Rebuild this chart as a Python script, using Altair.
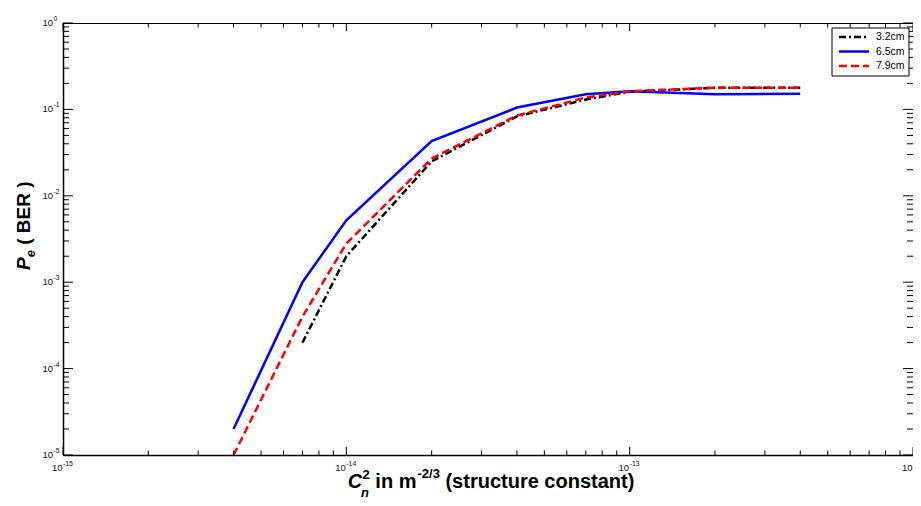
import altair as alt
import pandas as pd

# ---------------- data ----------------
cn2 = [4e-15, 7e-15, 1e-14, 2e-14, 4e-14, 7e-14, 1e-13, 2e-13, 4e-13]
ber_32 = [None, 2.0e-4, 2.0e-3, 2.5e-2, 8.3e-2, 0.130, 0.160, 0.178, 0.178]
ber_65 = [2.0e-5, 1.0e-3, 5.2e-3, 4.3e-2, 1.05e-1, 0.150, 0.162, 0.150, 0.152]
ber_79 = [1.0e-5, 4.0e-4, 2.8e-3, 2.7e-2, 8.5e-2, 0.137, 0.162, 0.178, 0.178]
series_names = ["3.2cm", "6.5cm", "7.9cm"]
series_values = [ber_32, ber_65, ber_79]
series_colors = ["#000000", "#0000ff", "#ff0000"]
series_dashes = [[7, 3, 2, 3], None, [8, 4]]

x_decades = [-15, -14, -13, -12]
y_decades = [-5, -4, -3, -2, -1, 0]
minor_mult = [2, 3, 4, 5, 6, 7, 8, 9]

W, H = 850, 432

xs = alt.Scale(type="log", domain=[1e-15, 1e-12], nice=False)
ys = alt.Scale(type="log", domain=[1e-5, 1], nice=False)
axX = alt.Axis(labels=False, ticks=False, grid=False, title=None,
               domainColor="black", domainWidth=1.5)
axY = alt.Axis(labels=False, ticks=False, grid=False, title=None,
               domainColor="black", domainWidth=1.5)

dummy = pd.DataFrame({"a": [0]})
layers = []

# ---------------- data lines ----------------
for name, vals, col, dash in zip(series_names, series_values, series_colors, series_dashes):
    df = pd.DataFrame({"cn2": cn2, "ber": vals, "series": name}).dropna()
    kw = dict(color=col, strokeWidth=2.5)
    if dash:
        kw["strokeDash"] = dash
    layers.append(
        alt.Chart(df).mark_line(**kw).encode(
            x=alt.X("cn2:Q", scale=xs, axis=axX),
            y=alt.Y("ber:Q", scale=ys, axis=axY),
        )
    )

# ---------------- ticks (inward, on all four sides) ----------------
x_major = pd.DataFrame({"v": [10.0 ** d for d in x_decades]})
x_minor = pd.DataFrame({"v": [k * 10.0 ** d for d in x_decades[:-1] for k in minor_mult]})
y_major = pd.DataFrame({"v": [10.0 ** d for d in y_decades]})
y_minor = pd.DataFrame({"v": [k * 10.0 ** d for d in y_decades[:-1] for k in minor_mult]})

for df, ln in [(x_major, 8), (x_minor, 4.5)]:
    layers.append(alt.Chart(df).mark_rule(color="black", strokeWidth=1).encode(
        x=alt.X("v:Q", scale=xs, axis=axX), y=alt.value(H), y2=alt.value(H - ln)))
    layers.append(alt.Chart(df).mark_rule(color="black", strokeWidth=1).encode(
        x=alt.X("v:Q", scale=xs, axis=axX), y=alt.value(0), y2=alt.value(ln)))
for df, ln in [(y_major, 10), (y_minor, 6)]:
    layers.append(alt.Chart(df).mark_rule(color="black", strokeWidth=1).encode(
        y=alt.Y("v:Q", scale=ys, axis=axY), x=alt.value(0), x2=alt.value(ln)))
    layers.append(alt.Chart(df).mark_rule(color="black", strokeWidth=1).encode(
        y=alt.Y("v:Q", scale=ys, axis=axY), x=alt.value(W), x2=alt.value(W - ln)))

# ---------------- tick labels 10^n ----------------
xlab = pd.DataFrame({"v": [10.0 ** d for d in x_decades], "e": [str(d) for d in x_decades]})
ylab = pd.DataFrame({"v": [10.0 ** d for d in y_decades], "e": [str(d) for d in y_decades]})
LBL = "#111111"
LF = "Liberation Sans"
layers.append(alt.Chart(xlab).mark_text(text="10", align="right", baseline="middle",
                                        fontSize=9.5, font=LF, color=LBL, dx=-0.5).encode(
    x=alt.X("v:Q", scale=xs, axis=axX), y=alt.value(H + 13)))
layers.append(alt.Chart(xlab).mark_text(align="left", baseline="middle",
                                        fontSize=6.8, font=LF, color=LBL, dx=0).encode(
    x=alt.X("v:Q", scale=xs, axis=axX), y=alt.value(H + 8.5), text="e:N"))
layers.append(alt.Chart(ylab).mark_text(text="10", align="right", baseline="middle",
                                        fontSize=9.5, font=LF, color=LBL).encode(
    y=alt.Y("v:Q", scale=ys, axis=axY), x=alt.value(-10)))
layers.append(alt.Chart(ylab).mark_text(align="left", baseline="middle", dy=-4,
                                        fontSize=6.8, font=LF, color=LBL).encode(
    y=alt.Y("v:Q", scale=ys, axis=axY), x=alt.value(-9.5), text="e:N"))

# ---------------- axis titles (with sub/superscripts) ----------------
AW = {' ': 278, '(': 333, ')': 333, '-': 333, '/': 278, '2': 556, '3': 556, 'a': 556,
      'c': 556, 'e': 556, 'i': 278, 'm': 889, 'n': 611, 'o': 611, 'r': 389, 's': 556,
      't': 333, 'u': 611, 'B': 722, 'E': 667, 'R': 722, 'C': 722, 'P': 667}


def tw(s, fs):
    return sum(AW[c] for c in s) * fs / 1000.0


def piece(text, x, y, fs, dx=0, dy=0, italic=False, angle=0):
    kw = dict(text=text, align="left", baseline="alphabetic", fontSize=fs,
              font=LF, fontWeight="bold", color="black", dx=dx, dy=dy)
    if italic:
        kw["fontStyle"] = "italic"
    if angle:
        kw["angle"] = angle
    return alt.Chart(dummy).mark_text(**kw).encode(x=alt.value(x), y=alt.value(y))


# x title: C_n^2 in m^-2/3 (structure constant)
FS, SFS = 20, 13
wC = tw("C", FS)
w2 = tw("2", SFS)
wsp = tw(" ", FS)
w_inm = tw("in m", FS)
w_exp = tw("-2/3", SFS)
w_rest = tw("(structure constant)", FS)
total = wC + w2 + 0.5 + wsp + w_inm + w_exp + 1 + wsp + w_rest
x0 = W / 2 + 3 - total / 2
yb = H + 33
layers.append(piece("C", x0, yb, FS, italic=True))
layers.append(piece("2", x0, yb, SFS, dx=wC + 0.5, dy=-9.5))
layers.append(piece("n", x0, yb, SFS, dx=wC - 1, dy=9, italic=True))
adv = wC + w2 + 0.5 + wsp
layers.append(piece("in m", x0, yb, FS, dx=adv))
adv += w_inm + 1
layers.append(piece("-2/3", x0, yb, SFS, dx=adv, dy=-10))
adv += w_exp + wsp
layers.append(piece("(structure constant)", x0, yb, FS, dx=adv))

# y title: P_e ( BER )
YFS, YSFS = 19, 13
yx, yy = -33, 247
wP = tw("P", YFS)
layers.append(piece("P", yx, yy, YFS, italic=True, angle=270))
layers.append(piece("e", yx, yy, YSFS, dx=wP, dy=5, italic=True, angle=270))
layers.append(piece("( BER )", yx, yy, YFS, dx=wP + tw("e", YSFS) + tw(" ", YFS), angle=270))

# ---------------- legend ----------------
LX0, LX1, LY0, LY1 = 769, 846, 5, 53
layers.append(alt.Chart(dummy).mark_rect(fill="white", stroke="black", strokeWidth=1).encode(
    x=alt.value(LX0), x2=alt.value(LX1), y=alt.value(LY0), y2=alt.value(LY1)))
rows = [14, 28.5, 43]
for name, col, dash, ry in zip(series_names, series_colors, series_dashes, rows):
    kw = dict(color=col, strokeWidth=2.5)
    if dash:
        kw["strokeDash"] = dash
    layers.append(alt.Chart(dummy).mark_rule(**kw).encode(
        x=alt.value(776), x2=alt.value(806), y=alt.value(ry)))
    layers.append(alt.Chart(dummy).mark_text(text=name, align="left", baseline="middle",
                                             fontSize=10.5, font=LF, color="black").encode(
        x=alt.value(813), y=alt.value(ry)))

chart = alt.layer(*layers).properties(
    width=W, height=H,
    autosize=alt.AutoSizeParams(type="none"),
    padding={"left": 55, "top": 15, "right": 0, "bottom": 43},
    background="white",
).configure_view(stroke="black", strokeWidth=1)

chart.save("out.html", embed_options={"renderer": "svg", "actions": False})
